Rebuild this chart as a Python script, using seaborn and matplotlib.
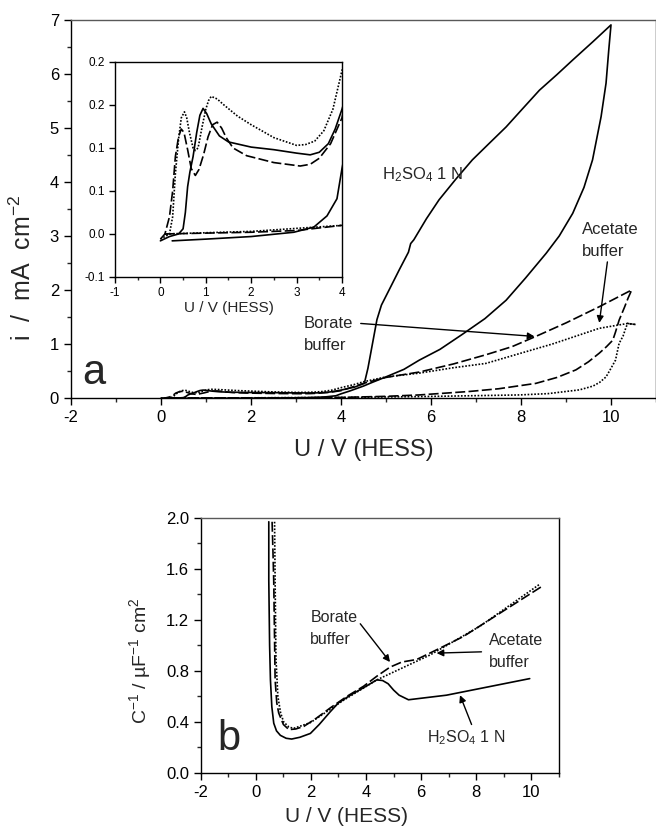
import matplotlib
matplotlib.use("Agg")
import matplotlib.pyplot as plt
import seaborn as sns
from matplotlib.ticker import MultipleLocator, FixedLocator, FixedFormatter, FormatStrFormatter

sns.set_style("ticks")
plt.rcParams["font.family"] = ["Liberation Sans", "DejaVu Sans"]
plt.rcParams["mathtext.default"] = "regular"
plt.rcParams["axes.unicode_minus"] = False

# ---- panel a: current vs potential (forward + reverse sweep, traced in order)
h2so4_u = [0.0, 0.2, 0.4, 0.5, 0.55, 0.6, 0.65, 0.72, 0.8, 0.87, 0.94, 1.02, 1.12, 1.3, 1.5, 2.0, 2.5,
           3.0, 3.3, 3.5, 3.7, 3.85, 4.0, 4.3,
           4.52, 4.6, 4.7, 4.8, 4.9, 5.07, 5.3, 5.5, 5.55, 5.62, 5.9, 6.18, 6.55, 6.92, 7.3, 7.67,
           8.05, 8.41, 8.8, 9.15, 9.6, 10.0,
           9.95, 9.89, 9.78, 9.59, 9.4, 9.15, 8.85, 8.56, 8.1, 7.67, 7.2, 6.7, 6.2, 5.74, 5.4,
           5.0, 4.7, 4.5, 4.2, 4.0, 3.89, 3.67, 3.38, 2.94, 2.0, 1.0, 0.26]
h2so4_i = [-0.008, -0.003, 0.0, 0.006, 0.025, 0.055, 0.072, 0.09, 0.118, 0.138, 0.146, 0.14, 0.128,
           0.114, 0.107, 0.101, 0.098, 0.094, 0.092, 0.095, 0.105, 0.122, 0.145, 0.2,
           0.27, 0.55, 1.0, 1.45, 1.72, 2.0, 2.38, 2.7, 2.86, 2.93, 3.32, 3.67, 4.05, 4.41, 4.72, 5.02,
           5.37, 5.70, 5.99, 6.26, 6.6, 6.91,
           6.44, 5.83, 5.21, 4.41, 3.9, 3.42, 3.0, 2.68, 2.22, 1.81, 1.47, 1.18, 0.9, 0.70, 0.53,
           0.39, 0.29, 0.22, 0.13, 0.076, 0.041, 0.021, 0.008, 0.002, -0.003, -0.006, -0.008]

borate_u = [0.0, 0.1, 0.2, 0.27, 0.33, 0.4, 0.46, 0.52, 0.6, 0.68, 0.77, 0.85, 0.95, 1.05, 1.15, 1.25,
            1.35, 1.45, 1.6, 1.9, 2.5, 3.08, 3.3, 3.5, 3.75, 4.0,
            4.5, 5.0, 5.74, 6.5, 7.22, 7.8, 8.33, 9.0, 9.74, 10.46,
            10.38, 10.3, 10.18, 10.1, 10.04, 9.9, 9.74, 9.5, 9.22, 8.8, 8.33, 7.5, 6.85, 5.74, 5.0,
            4.0, 3.0, 2.0, 1.0, 0.1]
borate_i = [-0.006, 0.0, 0.02, 0.05, 0.09, 0.113, 0.122, 0.118, 0.098, 0.076, 0.068, 0.075, 0.092,
            0.113, 0.127, 0.13, 0.123, 0.112, 0.1, 0.091, 0.083, 0.079, 0.081, 0.088, 0.105, 0.135,
            0.27, 0.38, 0.48, 0.63, 0.80, 0.95, 1.14, 1.39, 1.69, 2.0,
            1.85, 1.68, 1.44, 1.22, 1.07, 0.95, 0.83, 0.67, 0.52, 0.38, 0.27, 0.17, 0.12, 0.056, 0.03,
            0.01, 0.004, 0.002, 0.001, 0.0]

acetate_u = [0.0, 0.2, 0.27, 0.33, 0.4, 0.46, 0.53, 0.58, 0.64, 0.72, 0.77, 0.83, 0.92, 1.0, 1.06,
             1.12, 1.25, 1.4, 1.7, 2.0, 2.5, 3.0, 3.2, 3.4, 3.6, 3.8, 4.0, 4.3, 4.5, 5.0, 5.74, 6.5,
             7.22, 8.0, 8.7, 9.74, 10.37, 10.55, 10.37,
             10.33, 10.27, 10.18, 10.1, 9.98, 9.89, 9.75, 9.6, 9.3, 8.6, 7.96, 5.74, 4.0, 2.0, 0.1]
acetate_i = [-0.006, 0.0, 0.02, 0.07, 0.11, 0.135, 0.142, 0.135, 0.118, 0.1, 0.097, 0.1, 0.125, 0.145,
             0.155, 0.160, 0.157, 0.15, 0.137, 0.127, 0.112, 0.103, 0.104, 0.108, 0.12, 0.145, 0.19,
             0.25, 0.30, 0.39, 0.46, 0.56, 0.64, 0.83, 1.0, 1.29, 1.38, 1.36, 1.38,
             1.3, 1.15, 1.01, 0.70, 0.52, 0.39, 0.29, 0.22, 0.15, 0.08, 0.056, 0.025, 0.01, 0.003, 0.0]

# inset tick labels as printed
inset_yticks = [-0.05, 0.0, 0.05, 0.10, 0.15, 0.20]
inset_ylabels = ["-0.1", "0.0", "0.1", "0.1", "0.2", "0.2"]

# ---- panel b: inverse capacitance vs potential
h2so4_cu = [0.47, 0.47, 0.5, 0.53, 0.58, 0.65, 0.75, 0.89, 1.1, 1.3, 1.6, 1.98, 2.3, 2.7, 3.0, 3.43,
            4.0, 4.39, 4.6, 4.8, 5.0, 5.2, 5.54, 6.92, 9.94]
h2so4_c = [1.97, 1.51, 1.0, 0.73, 0.52, 0.39, 0.33, 0.295, 0.272, 0.266, 0.28, 0.31, 0.38, 0.48, 0.55,
           0.61, 0.68, 0.73, 0.725, 0.70, 0.65, 0.61, 0.574, 0.61, 0.74]
borate_cu = [0.59, 0.62, 0.65, 0.7, 0.76, 0.83, 1.0, 1.2, 1.45, 1.74, 2.2, 2.7, 3.3, 3.91, 4.4, 4.87,
             5.3, 5.84, 6.6, 7.53, 10.36]
borate_c = [1.97, 1.75, 1.5, 0.73, 0.55, 0.47, 0.38, 0.34, 0.345, 0.365, 0.43, 0.51, 0.6, 0.68, 0.76,
            0.83, 0.87, 0.89, 0.97, 1.07, 1.46]
acetate_cu = [0.68, 0.7, 0.73, 0.8, 0.9, 1.01, 1.2, 1.37, 1.65, 1.98, 2.5, 3.18, 4.39, 6.32, 8.13, 10.3]
acetate_c = [1.97, 1.5, 0.9, 0.6, 0.47, 0.40, 0.36, 0.35, 0.37, 0.395, 0.47, 0.57, 0.73, 0.925, 1.15, 1.48]

solid = dict(color="black", lw=1.2, linestyle="-")
dashed = dict(color="black", lw=1.2, linestyle=(0, (6, 2)))
dotted = dict(color="black", lw=1.2, linestyle=(0, (1, 1)))


def draw(ax, u, y, style):
    sns.lineplot(x=u, y=y, ax=ax, sort=False, estimator=None, **style)


def style_axes(ax, size, major_len=5, minor_len=3):
    ax.tick_params(which="major", direction="out", length=major_len, width=1, labelsize=size, colors="black")
    ax.tick_params(which="minor", direction="out", length=minor_len, width=1)
    for s in ax.spines.values():
        s.set_visible(True)
        s.set_color("black")
        s.set_linewidth(1)


fig = plt.figure(figsize=(6.56, 8.35), dpi=100)

# panel a
ax = fig.add_axes([0.108, 0.5234, 0.892, 0.4526])
draw(ax, h2so4_u, h2so4_i, solid)
draw(ax, borate_u, borate_i, dashed)
draw(ax, acetate_u, acetate_i, dotted)
ax.set_xlim(-2, 11)
ax.set_ylim(0, 7)
ax.xaxis.set_major_locator(MultipleLocator(2))
ax.xaxis.set_minor_locator(MultipleLocator(1))
ax.yaxis.set_major_locator(MultipleLocator(1))
ax.yaxis.set_minor_locator(MultipleLocator(0.5))
style_axes(ax, 12)
ax.spines["top"].set_color("0.35")
ax.set_xlabel("U / V (HESS)", fontsize=17, labelpad=10)
ax.set_ylabel("i  /  mA  cm$^{-2}$", fontsize=18)
ax.yaxis.set_label_coords(-0.06, 0.344)
ax.text(-1.48, 0.46, "a", fontsize=30, ha="center", va="center")
ax.text(4.92, 4.13, "H$_2$SO$_4$ 1 N", fontsize=12, ha="left", va="center")
ax.text(9.36, 2.91, "Acetate\nbuffer", fontsize=12, ha="left", va="center", linespacing=1.6)
ax.text(3.18, 1.18, "Borate\nbuffer", fontsize=12, ha="left", va="center", linespacing=1.6)
arrow = dict(arrowstyle="-|>", color="black", lw=1, mutation_scale=10, shrinkA=0, shrinkB=0)
ax.annotate("", xy=(9.74, 1.39), xytext=(9.92, 2.52), arrowprops=arrow)
ax.annotate("", xy=(8.30, 1.14), xytext=(4.44, 1.38), arrowprops=arrow)

# inset
axi = fig.add_axes([0.1753, 0.6683, 0.346, 0.2575])
draw(axi, h2so4_u, h2so4_i, solid)
draw(axi, borate_u, borate_i, dashed)
draw(axi, acetate_u, acetate_i, dotted)
axi.set_xlim(-1, 4)
axi.set_ylim(-0.05, 0.20)
axi.xaxis.set_major_locator(MultipleLocator(1))
axi.xaxis.set_minor_locator(MultipleLocator(0.5))
axi.yaxis.set_major_locator(FixedLocator(inset_yticks))
axi.yaxis.set_major_formatter(FixedFormatter(inset_ylabels))
style_axes(axi, 8.5, 4, 2)
axi.set_xlabel("U / V (HESS)", fontsize=11, labelpad=1)
axi.set_ylabel("")

# panel b
axb = fig.add_axes([0.306, 0.0743, 0.546, 0.3054])
draw(axb, h2so4_cu, h2so4_c, solid)
draw(axb, borate_cu, borate_c, dashed)
draw(axb, acetate_cu, acetate_c, dotted)
axb.set_xlim(-2, 11)
axb.set_ylim(0, 2.0)
axb.xaxis.set_major_locator(MultipleLocator(2))
axb.xaxis.set_minor_locator(MultipleLocator(1))
axb.yaxis.set_major_locator(MultipleLocator(0.4))
axb.yaxis.set_minor_locator(MultipleLocator(0.2))
axb.yaxis.set_major_formatter(FormatStrFormatter("%.1f"))
style_axes(axb, 12)
axb.spines["top"].set_color("0.35")
axb.set_xlabel("U / V (HESS)", fontsize=15)
axb.xaxis.set_label_coords(0.408, -0.135)
axb.set_ylabel("C$^{-1}$ / µF$^{-1}$ cm$^{2}$", fontsize=14)
axb.yaxis.set_label_coords(-0.134, 0.44)
axb.text(-0.99, 0.27, "b", fontsize=30, ha="center", va="center")
axb.text(1.98, 1.135, "Borate\nbuffer", fontsize=11.5, ha="left", va="center", linespacing=1.6)
axb.text(8.47, 0.95, "Acetate\nbuffer", fontsize=11.5, ha="left", va="center", linespacing=1.6)
axb.text(6.2, 0.274, "H$_2$SO$_4$ 1 N", fontsize=11.5, ha="left", va="center")
axb.annotate("", xy=(4.87, 0.87), xytext=(3.79, 1.17), arrowprops=arrow)
axb.annotate("", xy=(6.56, 0.94), xytext=(8.19, 0.95), arrowprops=arrow)
axb.annotate("", xy=(7.41, 0.61), xytext=(7.83, 0.38), arrowprops=arrow)

plt.savefig("out.png", dpi=100)
